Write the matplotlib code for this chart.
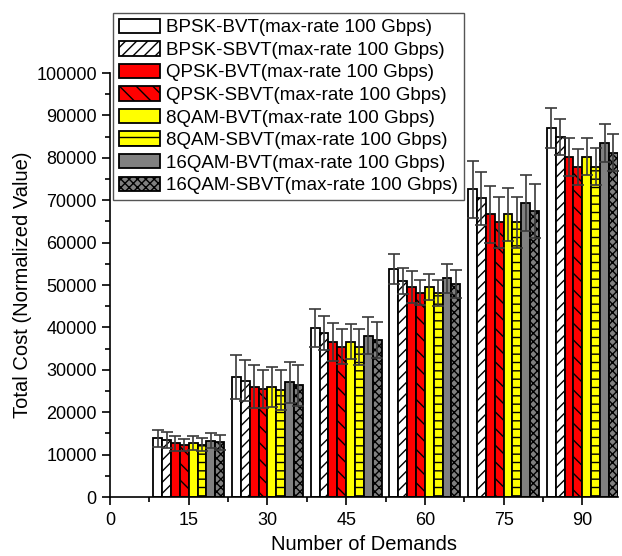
import numpy as np
import matplotlib
matplotlib.use('Agg')
import matplotlib.pyplot as plt
from matplotlib.ticker import MultipleLocator

plt.rcParams['font.family'] = ['Liberation Sans', 'DejaVu Sans']
plt.rcParams['hatch.linewidth'] = 1.0

# ==================== data ====================
demands = [15, 30, 45, 60, 75, 90]

labels = ['BPSK-BVT(max-rate 100 Gbps)', 'BPSK-SBVT(max-rate 100 Gbps)',
          'QPSK-BVT(max-rate 100 Gbps)', 'QPSK-SBVT(max-rate 100 Gbps)',
          '8QAM-BVT(max-rate 100 Gbps)', '8QAM-SBVT(max-rate 100 Gbps)',
          '16QAM-BVT(max-rate 100 Gbps)', '16QAM-SBVT(max-rate 100 Gbps)']

bpsk_bvt = [13840, 28230, 39790, 53770, 72570, 86960]
bpsk_sbvt = [13440, 27430, 38750, 50940, 70450, 84830]
qpsk_bvt = [12660, 26020, 36630, 49600, 66670, 80120]
qpsk_sbvt = [12260, 25400, 35450, 48190, 64790, 77760]
qam8_bvt = [12800, 26020, 36630, 49600, 66670, 80260]
qam8_sbvt = [12340, 25240, 35450, 48190, 64790, 77900]
qam16_bvt = [13280, 27050, 38050, 51580, 69270, 83560]
qam16_sbvt = [12900, 26340, 37030, 50240, 67380, 81200]

bpsk_bvt_err = [2000, 5200, 4500, 3600, 6750, 4700]
bpsk_sbvt_err = [1800, 4800, 4000, 3100, 6300, 4250]
qpsk_bvt_err = [1800, 5000, 4500, 3800, 6750, 4500]
qpsk_sbvt_err = [1500, 4500, 4100, 2900, 6000, 4250]
qam8_bvt_err = [1600, 4700, 4100, 3100, 6200, 4300]
qam8_sbvt_err = [1600, 4700, 4200, 3100, 6000, 4300]
qam16_bvt_err = [1700, 4900, 4300, 3400, 6600, 4500]
qam16_sbvt_err = [1700, 4800, 4200, 3200, 6400, 4400]

series = [bpsk_bvt, bpsk_sbvt, qpsk_bvt, qpsk_sbvt,
          qam8_bvt, qam8_sbvt, qam16_bvt, qam16_sbvt]
errors = [bpsk_bvt_err, bpsk_sbvt_err, qpsk_bvt_err, qpsk_sbvt_err,
          qam8_bvt_err, qam8_sbvt_err, qam16_bvt_err, qam16_sbvt_err]

faces = ['white', 'white', '#ff0000', '#ff0000', '#ffff00', '#ffff00', '#808080', '#808080']
hatches = [None, '///', None, '\\\\', None, '--', None, 'xxxx']

# ==================== plot ====================
fig = plt.figure(figsize=(6.22, 5.56), dpi=100)
ax = fig.add_axes([0.1768, 0.1061, 0.8168, 0.7626])

x = np.array(demands, dtype=float)
bw = 1.69
for i, (vals, err) in enumerate(zip(series, errors)):
    pos = x + (i - 3.5) * bw
    ax.bar(pos, vals, width=bw, color=faces[i], edgecolor='black', linewidth=1.3,
           hatch=hatches[i], label=labels[i], zorder=2)
    ax.errorbar(pos, vals, yerr=err, fmt='none', ecolor='#3a3a3a', elinewidth=1.2,
                capsize=4, capthick=1.2, zorder=3)

ax.set_xlim(0, 96.8)
ax.set_ylim(0, 100000)
ax.xaxis.set_major_locator(MultipleLocator(15))
ax.xaxis.set_minor_locator(MultipleLocator(7.5))
ax.yaxis.set_major_locator(MultipleLocator(10000))
ax.yaxis.set_minor_locator(MultipleLocator(5000))
ax.tick_params(axis='both', which='major', direction='out', length=6, width=1.2, labelsize=13)
ax.tick_params(axis='x', which='major', pad=5)
ax.tick_params(axis='both', which='minor', direction='out', length=3.5, width=1.2)
ax.spines['top'].set_visible(False)
ax.spines['right'].set_visible(False)
ax.spines['left'].set_linewidth(1.2)
ax.spines['bottom'].set_linewidth(1.2)

ax.set_xlabel('Number of Demands', fontsize=14.5, labelpad=4)
ax.set_ylabel('Total Cost (Normalized Value)', fontsize=14.5, labelpad=3)

leg = ax.legend(loc='upper left', bbox_to_anchor=(0.1817, 0.9766),
                bbox_transform=fig.transFigure, borderaxespad=0,
                fontsize=13.5, fancybox=False, framealpha=1, edgecolor='#555555',
                handlelength=2.2, handleheight=0.8, labelspacing=0.26,
                handletextpad=0.35, borderpad=0.3)
leg.get_frame().set_linewidth(1.0)
leg.set_zorder(5)

fig.savefig('out.png', dpi=100)
